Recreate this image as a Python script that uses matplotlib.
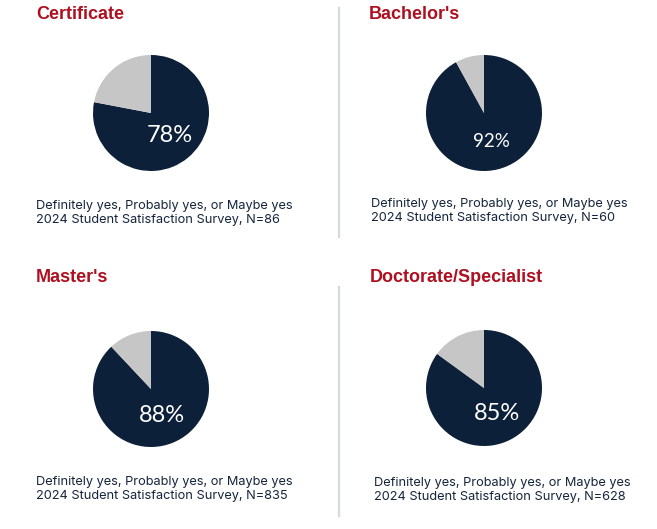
import matplotlib
matplotlib.use("Agg")
import matplotlib.pyplot as plt

W, H = 657, 529

# data
titles = ["Certificate", "Bachelor's", "Master's", "Doctorate/Specialist"]
yes_pct = [78, 92, 88, 85]
n_sizes = [86, 60, 835, 628]
note = "Definitely yes, Probably yes, or Maybe yes"
survey = "2024 Student Satisfaction Survey, N={}"

# layout (pixels, top-left origin)
title_xy = [(36, 19), (369, 19), (36, 282), (370, 282)]
pie_cxy = [(151, 113), (484, 113), (151, 389), (484, 388)]
note_xy = [(36, 209), (371, 207), (36, 485), (374, 486)]
pct_size = [17, 13.5, 17, 17]
R = 58

navy = "#0C2039"
grey = "#C6C6C6"
red = "#AE1020"
txt = "#15253C"

fig = plt.figure(figsize=(W / 100, H / 100), dpi=100)


def fx(px):
    return px / W


def fy(py):
    return 1 - py / H


for i in range(4):
    cx, cy = pie_cxy[i]
    ax = fig.add_axes([fx(cx - R), fy(cy + R), 2 * R / W, 2 * R / H])
    ax.pie([yes_pct[i], 100 - yes_pct[i]], colors=[navy, grey], startangle=90,
           counterclock=False, autopct=lambda p: "{:.0f}%".format(p) if p > 50 else "",
           pctdistance=0.5,
           textprops=dict(color="white", fontsize=pct_size[i], family="Lato"),
           wedgeprops=dict(linewidth=0))
    ax.set_xlim(-1, 1)
    ax.set_ylim(-1, 1)
    ax.set_aspect("equal")
    ax.axis("off")

    tx, ty = title_xy[i]
    fig.text(fx(tx), fy(ty), titles[i], color=red, fontsize=13, fontweight="bold",
             family="Liberation Sans", ha="left", va="baseline")

    nx, ny = note_xy[i]
    fig.text(fx(nx), fy(ny), note, color=txt, fontsize=9.2, family="Inter",
             ha="left", va="baseline")
    fig.text(fx(nx), fy(ny + 14), survey.format(n_sizes[i]), color=txt, fontsize=9.2,
             family="Inter", ha="left", va="baseline")

# separators
for y0, y1 in [(8, 237), (287, 516)]:
    fig.add_artist(plt.Line2D([fx(339), fx(339)], [fy(y0), fy(y1)], color="#D6DADF", lw=1.6))

fig.savefig("out.png", dpi=100, facecolor="white")
